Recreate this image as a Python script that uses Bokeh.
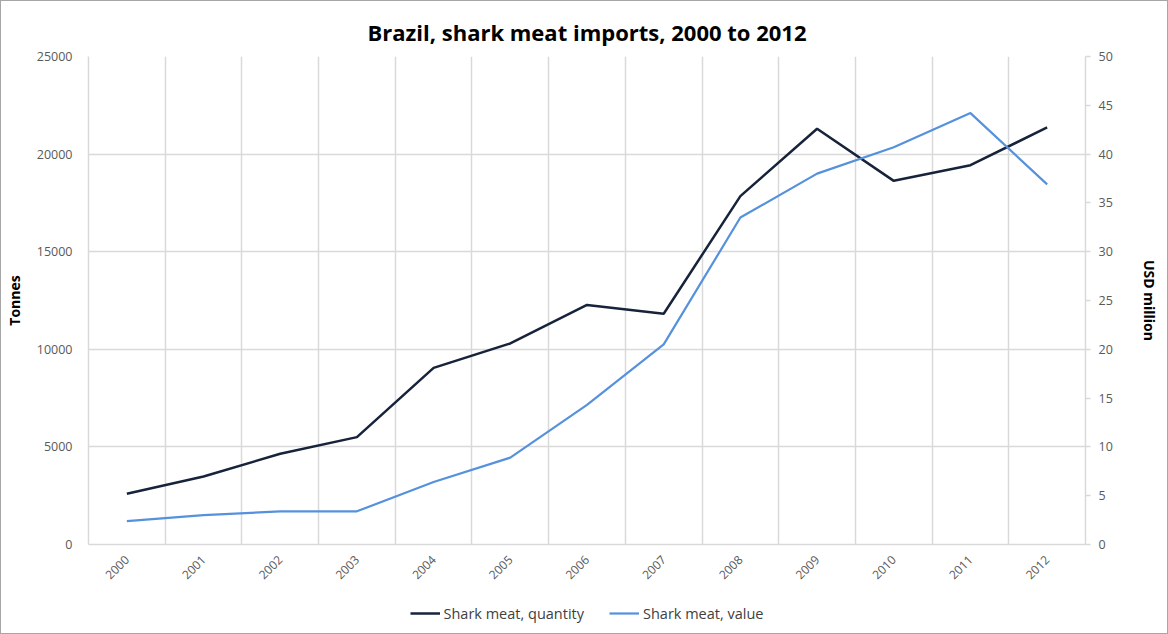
import math
from bokeh.plotting import figure
from bokeh.layouts import column
from bokeh.models import Range1d, LinearAxis, FixedTicker, Legend, LegendItem
from bokeh.embed import file_html
from bokeh.resources import INLINE

years = ["2000", "2001", "2002", "2003", "2004", "2005", "2006",
         "2007", "2008", "2009", "2010", "2011", "2012"]
quantity_tonnes = [2600, 3480, 4650, 5500, 9050, 10300, 12270,
                   11820, 17850, 21300, 18630, 19430, 21370]
value_usd_million = [2.4, 3.0, 3.4, 3.4, 6.4, 8.9, 14.3,
                     20.5, 33.5, 38.0, 40.7, 44.2, 36.9]
series_names = ["Shark meat, quantity", "Shark meat, value"]
left_ticks = [0, 5000, 10000, 15000, 20000, 25000]
right_ticks = [0, 5, 10, 15, 20, 25, 30, 35, 40, 45, 50]

xc = [i + 0.5 for i in range(len(years))]
FONT = "Open Sans"
GRID = "#d9d9d9"
TICK_TXT = "#595959"
C_Q = "#17233a"
C_V = "#5591dc"

p = figure(width=1166, height=592, output_backend="svg", toolbar_location=None,
           x_range=Range1d(0, len(years)), y_range=Range1d(0, 25000),
           min_border_left=87, min_border_right=82, min_border_top=55,
           min_border_bottom=49, title="Brazil, shark meat imports, 2000 to 2012")
p.outline_line_color = None
p.title.align = "center"
p.title.text_font = FONT
p.title.text_font_size = "22px"
p.title.text_font_style = "bold"
p.title.text_color = "#000000"
p.title.standoff = 20

p.extra_y_ranges = {"usd": Range1d(0, 50)}

# x axis
p.xaxis.ticker = FixedTicker(ticks=xc)
p.xaxis.major_label_overrides = {c: y for c, y in zip(xc, years)}
p.xaxis.major_label_orientation = math.pi / 4
p.xaxis.major_tick_line_color = None
p.xaxis.minor_tick_line_color = None
p.xaxis.axis_line_color = GRID
p.xaxis.axis_line_width = 1.5
p.xaxis.major_label_text_font = FONT
p.xaxis.major_label_text_font_size = "12px"
p.xaxis.major_label_text_color = TICK_TXT
p.xaxis.major_label_standoff = 7

# left axis
p.yaxis.ticker = FixedTicker(ticks=left_ticks)
p.yaxis.major_tick_line_color = None
p.yaxis.minor_tick_line_color = None
p.yaxis.axis_line_color = GRID
p.yaxis.axis_line_width = 1.5
p.yaxis.major_label_text_font = FONT
p.yaxis.major_label_text_font_size = "12.5px"
p.yaxis.major_label_text_color = TICK_TXT
p.yaxis.major_label_standoff = 10
p.yaxis.axis_label = "Tonnes"
p.yaxis.axis_label_text_font = FONT
p.yaxis.axis_label_text_font_size = "14px"
p.yaxis.axis_label_text_font_style = "bold"
p.yaxis.axis_label_text_color = "#000000"
p.yaxis.axis_label_standoff = 10

# right axis
ra = LinearAxis(y_range_name="usd", ticker=FixedTicker(ticks=right_ticks))
ra.axis_line_color = GRID
ra.axis_line_width = 1.5
ra.major_tick_line_color = GRID
ra.major_tick_line_width = 1.5
ra.major_tick_out = 5
ra.major_tick_in = 0
ra.minor_tick_line_color = None
ra.major_label_text_font = FONT
ra.major_label_text_font_size = "12.5px"
ra.major_label_text_color = TICK_TXT
ra.major_label_standoff = 8
ra.axis_label = "USD million"
ra.axis_label_text_font = FONT
ra.axis_label_text_font_size = "14px"
ra.axis_label_text_font_style = "bold"
ra.axis_label_text_color = "#000000"
ra.axis_label_standoff = 24
p.add_layout(ra, "right")

# grids
p.xgrid.ticker = FixedTicker(ticks=list(range(len(years) + 1)))
p.xgrid.grid_line_color = GRID
p.xgrid.grid_line_width = 1.5
p.ygrid.ticker = FixedTicker(ticks=left_ticks)
p.ygrid.grid_line_color = GRID
p.ygrid.grid_line_width = 1.5

p.line(xc, quantity_tonnes, line_color=C_Q, line_width=2.5)
p.line(xc, value_usd_million, y_range_name="usd", line_color=C_V, line_width=2.2)

# legend strip below the chart (series drawn out of view; only the legend shows)
lg = figure(width=1166, height=40, output_backend="svg", toolbar_location=None,
            x_range=Range1d(-200, -199), y_range=Range1d(-200, -199),
            min_border=0, min_border_left=0, min_border_right=0,
            min_border_top=0, min_border_bottom=0)
lg.axis.visible = False
lg.grid.visible = False
lg.outline_line_color = None
g1 = lg.line(xc, quantity_tonnes, line_color=C_Q, line_width=2.5)
g2 = lg.line(xc, value_usd_million, line_color=C_V, line_width=2.2)
legend = Legend(items=[LegendItem(label=series_names[0], renderers=[g1]),
                       LegendItem(label=series_names[1], renderers=[g2])],
                orientation="horizontal", location="center",
                border_line_color=None, background_fill_alpha=0,
                label_text_font=FONT, label_text_font_size="14.5px",
                label_text_color="#404040", glyph_width=30, spacing=25,
                label_standoff=4, margin=0, padding=4)
lg.add_layout(legend, "center")

layout = column(p, lg, spacing=0)
layout.styles = {"border": "1px solid #a6a6a6"}

open("out.html", "w").write(file_html(layout, INLINE))
